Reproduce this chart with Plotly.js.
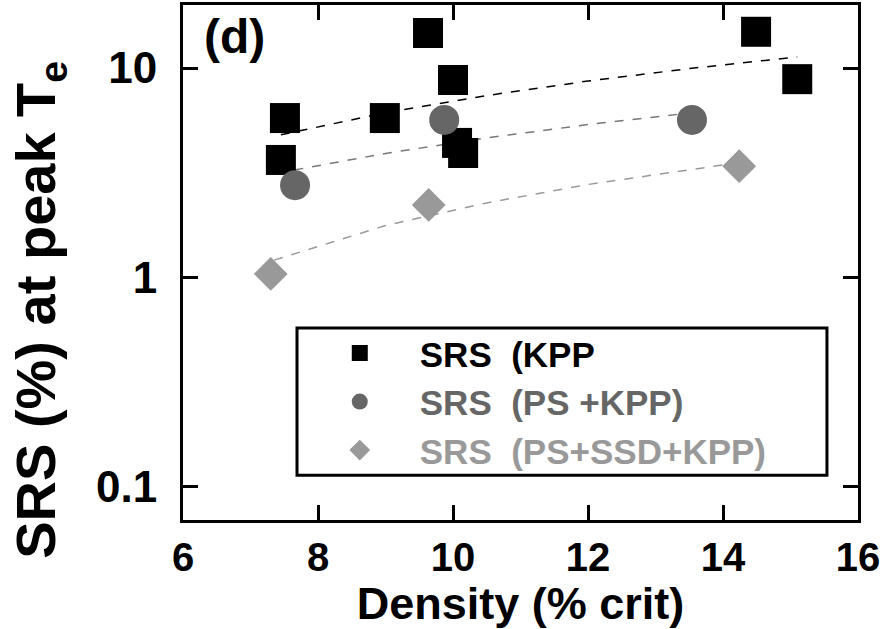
<!DOCTYPE html>
<html>
<head>
<meta charset="utf-8">
<script src="https://cdn.plot.ly/plotly-3.0.1.min.js"></script>
<style>html,body{margin:0;padding:0;background:#fff;}#chart{width:890px;height:629px;}</style>
</head>
<body>
<div id="chart"></div>
<script>
// Data
const kppDensity = [7.51, 7.45, 8.99, 9.63, 10.0, 10.06, 10.15, 14.49, 15.1];
const kppSRS     = [5.77, 3.64, 5.77, 14.7, 8.77, 4.39, 3.93, 14.9, 8.85];

const psDensity  = [7.66, 9.87, 13.54];
const psSRS      = [2.76, 5.65, 5.65];

const ssdDensity = [7.30, 9.64, 14.24];
const ssdSRS     = [1.04, 2.22, 3.40];

// Dashed trend lines (points read along the drawn dashes)
const kppFitX = [7.45, 9.0, 10.5, 12.0, 13.5, 15.1];
const kppFitY = [4.80, 6.12, 7.39, 8.67, 9.94, 11.3];
const psFitX  = [7.65, 9.0, 10.5, 12.0, 13.5];
const psFitY  = [3.26, 3.91, 4.64, 5.37, 6.10];
const ssdFitX = [7.35, 9.0, 10.5, 12.0, 14.2];
const ssdFitY = [1.21, 1.77, 2.27, 2.78, 3.52];

const seriesNames = ['SRS  (KPP', 'SRS  (PS +KPP)', 'SRS  (PS+SSD+KPP)'];
const yTickVals = [0.1, 1, 10];
const yTickText = ['0.1', '1', '10'];
const xTickVals = [6, 8, 10, 12, 14, 16];

const FONT = 'Liberation Sans, Arial, Helvetica, sans-serif';

const traces = [
  {x: kppFitX, y: kppFitY, mode: 'lines', line: {color: '#000', width: 1.5, dash: 'dash'}, showlegend: false, hoverinfo: 'skip'},
  {x: psFitX, y: psFitY, mode: 'lines', line: {color: '#777', width: 1.5, dash: 'dash'}, showlegend: false, hoverinfo: 'skip'},
  {x: ssdFitX, y: ssdFitY, mode: 'lines', line: {color: '#999', width: 1.5, dash: 'dash'}, showlegend: false, hoverinfo: 'skip'},
  {x: kppDensity, y: kppSRS, mode: 'markers', name: '<span style="color:#000">' + seriesNames[0] + '</span>',
   marker: {symbol: 'square', size: 30, color: '#000'}},
  {x: psDensity, y: psSRS, mode: 'markers', name: '<span style="color:#666">' + seriesNames[1] + '</span>',
   marker: {symbol: 'circle', size: 30, color: '#666'}},
  {x: ssdDensity, y: ssdSRS, mode: 'markers', name: '<span style="color:#999">' + seriesNames[2] + '</span>',
   marker: {symbol: 'diamond', size: 26, color: '#999'}}
];

const layout = {
  width: 890, height: 629,
  margin: {l: 183, r: 32, t: 5, b: 109},
  paper_bgcolor: '#fff', plot_bgcolor: '#fff',
  font: {family: FONT, color: '#000'},
  showlegend: true,
  legend: {
    x: 0.173, y: 0.381, xanchor: 'left', yanchor: 'top',
    bgcolor: 'rgba(0,0,0,0)', borderwidth: 0,
    font: {family: FONT, size: 35, weight: 700, color: '#000'},
    itemsizing: 'trace', itemwidth: 110
  },
  shapes: [
    {type: 'rect', xref: 'paper', yref: 'paper', x0: 0.1689, x1: 0.954, y0: 0.087, y1: 0.373,
     line: {color: '#000', width: 3}, fillcolor: '#fff', layer: 'above'}
  ],
  xaxis: {
    range: [6, 16], tickvals: xTickVals, ticktext: xTickVals.map(String),
    showline: true, linewidth: 3, linecolor: '#000', mirror: 'ticks',
    ticks: 'inside', ticklen: 15, tickwidth: 3, tickcolor: '#000',
    showgrid: false, zeroline: false,
    tickfont: {family: FONT, size: 40, weight: 700},
    ticklabelstandoff: 0,
    title: {text: 'Density (% crit)', font: {family: FONT, size: 45, weight: 700}, standoff: 6}
  },
  yaxis: {
    type: 'log', range: [-1.158, 1.301], tickvals: yTickVals, ticktext: yTickText,
    showline: true, linewidth: 3, linecolor: '#000', mirror: 'ticks',
    ticks: 'inside', ticklen: 15, tickwidth: 3, tickcolor: '#000',
    showgrid: false, zeroline: false,
    tickfont: {family: FONT, size: 44, weight: 700},
    ticklabelstandoff: 14
  },
  annotations: [
    {text: '(d)', xref: 'paper', yref: 'paper', x: 0.028, y: 0.995, xanchor: 'left', yanchor: 'top',
     showarrow: false, font: {family: FONT, size: 48, weight: 700}},
    {text: 'SRS (%) at peak T<sub>e</sub>', xref: 'paper', yref: 'paper', x: -0.212, y: 0.408,
     xanchor: 'center', yanchor: 'middle', textangle: -90, showarrow: false,
     font: {family: FONT, size: 56, weight: 700}}
  ]
};

Plotly.newPlot('chart', traces, layout, {displayModeBar: false, staticPlot: true});
</script>
</body>
</html>
